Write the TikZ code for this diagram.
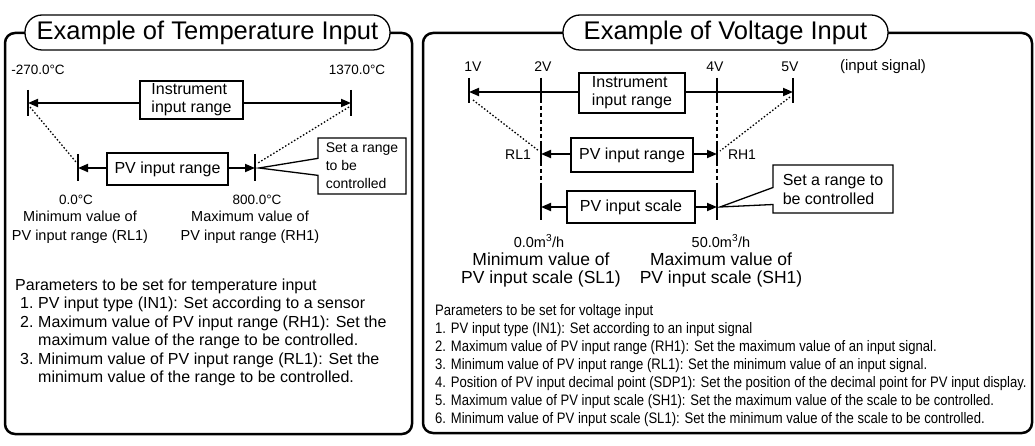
\documentclass[tikz,border=0pt]{standalone}
\usepackage{fontspec}
\setmainfont{Liberation Sans}
\newfontfamily\narrowfont[FakeStretch=0.86]{Liberation Sans}
\usetikzlibrary{
    arrows.meta,
    shapes.callouts
}

\tikzset{
    frame/.style={draw, line width=2.5pt, rounded corners=10pt},
    pill/.style={draw, fill=white, line width=1.3pt, rounded corners=17pt,
        minimum height=35pt, inner sep=0pt, font=\fontsize{25.5}{28}\selectfont},
    box/.style={draw, line width=2.4pt, align=left, inner sep=0pt,
        font=\fontsize{16}{18}\selectfont},
    tick/.style={line width=2.5pt},
    arr/.style={line width=1.8pt, -{Triangle[length=10pt,width=8pt]}},
    dots/.style={line width=1.3pt, dash pattern=on 1.5pt off 2pt},
    guide/.style={line width=2.2pt, dash pattern=on 4.5pt off 2.5pt},
    lbl/.style={inner sep=0pt, font=\fontsize{13.5}{15}\selectfont},
    capt/.style={inner sep=0pt, align=center},
    note/.style={rectangle callout, draw, fill=white, line width=1.3pt,
        align=left, inner sep=0pt, callout pointer width=17pt},
    txt/.style={anchor=base west, inner sep=0pt, font=\fontsize{16}{18}\selectfont},
    small/.style={anchor=base west, inner sep=0pt, font=\narrowfont\fontsize{15.2}{17}\selectfont}
}

\begin{document}
\begin{tikzpicture}[x=1pt,y=-1pt]
\useasboundingbox (0,0) rectangle (1035,446);

% ---------------- Temperature input ----------------
\draw[frame] (5,33) rectangle (412,434);
\node[pill, minimum width=365pt] (tTemp) at (207.5,32.5) {Example of Temperature Input};

% Ends of the ranges
\coordinate (lo) at (28,103);
\coordinate (hi) at (351,103);
\coordinate (rl) at (78,168);
\coordinate (rh) at (255,168);

% Instrument input range
\node[lbl] (tLow) at (38,70) {-270.0°C};
\node[lbl] (tHigh) at (357,70) {1370.0°C};
\draw[tick] (lo) ++(0,-13) -- ++(0,26);
\draw[tick] (hi) ++(0,-13) -- ++(0,26);
\node[box, minimum width=103pt, minimum height=38pt] (inst) at (191.5,100) {Instrument\\input range};
\draw[arr] (inst.west |- lo) -- (lo);
\draw[arr] (inst.east |- hi) -- (hi);

% PV input range
\draw[tick] (rl) ++(0,-14) -- ++(0,27);
\draw[tick] (rh) ++(0,-14) -- ++(0,27);
\node[box, minimum width=121pt, minimum height=32pt] (pvr) at (167.5,169) {PV input range};
\draw[arr] (pvr.west |- rl) -- (rl);
\draw[arr] (pvr.east |- rh) -- (rh);
\draw[dots] ([shift={(2,4)}]lo) -- ([shift={(-2,-6)}]rl);
\draw[dots] ([shift={(-2,4)}]hi) -- ([shift={(3,-5)}]rh);

% Callout
\node[note, minimum width=88pt, minimum height=56pt, font=\fontsize{14}{18}\selectfont,
    callout absolute pointer={([xshift=4pt]rh)}] (ctl1) at (362,166) {Set a range\\to be\\controlled};

% Values below
\node[lbl] (vLow) at (76,200) {0.0°C};
\node[capt, font=\fontsize{14.5}{19}\selectfont] (rl1) at (80,227.5) {Minimum value of\\PV input range (RL1)};
\node[lbl] (vHigh) at (257,200) {800.0°C};
\node[capt, font=\fontsize{14.5}{19}\selectfont] (rh1) at (250,227.5) {Maximum value of\\PV input range (RH1)};

% Parameters
\node[txt] (parT) at (15,290.5) {Parameters to be set for temperature input};
\node[txt] (nT1) at (20,308.5) {1.};
\node[txt] (iT1) at (38,308.5) {PV input type (IN1): Set according to a sensor};
\node[txt] (nT2) at (20,327) {2.};
\node[txt] (iT2) at (38,327) {Maximum value of PV input range (RH1): Set the};
\node[txt] (iT2b) at (38,345.5) {maximum value of the range to be controlled.};
\node[txt] (nT3) at (20,364) {3.};
\node[txt] (iT3) at (38,364) {Minimum value of PV input range (RL1): Set the};
\node[txt] (iT3b) at (38,382.5) {minimum value of the range to be controlled.};

% ---------------- Voltage input ----------------
\draw[frame] (423,33) rectangle (1032,433);
\node[pill, minimum width=325pt] (tVolt) at (725.5,32.5) {Example of Voltage Input};

% Ends of the ranges
\coordinate (v1) at (469,92);
\coordinate (v5) at (793,92);
\coordinate (v2) at (541,92);
\coordinate (v4) at (717,92);
\coordinate (r2) at (541,154);
\coordinate (r4) at (717,154);
\coordinate (s2) at (541,207);
\coordinate (s4) at (717,207);

% Signal values
\node[lbl, font=\fontsize{14}{16}\selectfont] (l1V) at (473,67) {1V};
\node[lbl, font=\fontsize{14}{16}\selectfont] (l2V) at (543,67) {2V};
\node[lbl, font=\fontsize{14}{16}\selectfont] (l4V) at (715,67) {4V};
\node[lbl, font=\fontsize{14}{16}\selectfont] (l5V) at (790,67) {5V};
\node[lbl, font=\fontsize{15}{16}\selectfont] (lSig) at (883,67) {(input signal)};

% Guide lines and ticks
\draw[guide] ([yshift=14pt]v2) -- ([yshift=-13pt]s2);
\draw[guide] ([yshift=14pt]v4) -- ([yshift=-13pt]s4);
\draw[tick] (v1) ++(0,-14) -- ++(0,25);
\draw[tick] (v5) ++(0,-14) -- ++(0,25);
\draw[tick] (v2) ++(0,-14) -- ++(0,25);
\draw[tick] (v4) ++(0,-14) -- ++(0,25);
\draw[tick] (r2) ++(0,-13) -- ++(0,25);
\draw[tick] (r4) ++(0,-13) -- ++(0,25);
\draw[tick] (s2) ++(0,-24) -- ++(0,37);
\draw[tick] (s4) ++(0,-24) -- ++(0,37);

% Instrument input range
\node[box, minimum width=106pt, minimum height=40pt] (inst2) at (632,93) {Instrument\\input range};
\draw[arr] (inst2.west |- v1) -- (v1);
\draw[arr] (inst2.east |- v5) -- (v5);

% PV input range
\node[box, minimum width=122pt, minimum height=34pt] (pvr2) at (632,155) {PV input range};
\draw[arr] (pvr2.west |- r2) -- (r2);
\draw[arr] (pvr2.east |- r4) -- (r4);
\node[lbl, font=\fontsize{14}{16}\selectfont] (lRL) at (518,155) {RL1};
\node[lbl, font=\fontsize{14}{16}\selectfont] (lRH) at (742,155) {RH1};
\draw[dots] ([shift={(4,8)}]v1) -- ([shift={(-2,-3)}]r2);
\draw[dots] ([shift={(-3,5)}]v5) -- ([shift={(3,-3)}]r4);

% PV input scale
\node[box, minimum width=128pt, minimum height=32pt] (pvs) at (631,207) {PV input scale};
\draw[arr] (pvs.west |- s2) -- (s2);
\draw[arr] (pvs.east |- s4) -- (s4);

% Callout
\node[note, minimum width=120pt, minimum height=48pt, font=\fontsize{16}{19}\selectfont,
    callout absolute pointer={([xshift=3pt]s4)}] (ctl2) at (833,189) {Set a range to\\be controlled};

% Values below
\node[lbl, font=\fontsize{14.5}{16}\selectfont] (sLow) at (539,241) {0.0m\textsuperscript{3}/h};
\node[capt, font=\fontsize{17.5}{18.5}\selectfont] (sl1) at (541,270) {Minimum value of\\PV input scale (SL1)};
\node[lbl, font=\fontsize{14.5}{16}\selectfont] (sHigh) at (721,241) {50.0m\textsuperscript{3}/h};
\node[capt, font=\fontsize{17.5}{18.5}\selectfont] (sh1) at (721,270) {Maximum value of\\PV input scale (SH1)};

% Parameters
\node[small] (parV) at (435,315.5) {Parameters to be set for voltage input};
\node[small] (iV1) at (435,333.5) {1. PV input type (IN1): Set according to an input signal};
\node[small] (iV2) at (435,351.5) {2. Maximum value of PV input range (RH1): Set the maximum value of an input signal.};
\node[small] (iV3) at (435,369.5) {3. Minimum value of PV input range (RL1): Set the minimum value of an input signal.};
\node[small] (iV4) at (435,387.5) {4. Position of PV input decimal point (SDP1): Set the position of the decimal point for PV input display.};
\node[small] (iV5) at (435,405.5) {5. Maximum value of PV input scale (SH1): Set the maximum value of the scale to be controlled.};
\node[small] (iV6) at (435,423.5) {6. Minimum value of PV input scale (SL1): Set the minimum value of the scale to be controlled.};

\end{tikzpicture}
\end{document}
